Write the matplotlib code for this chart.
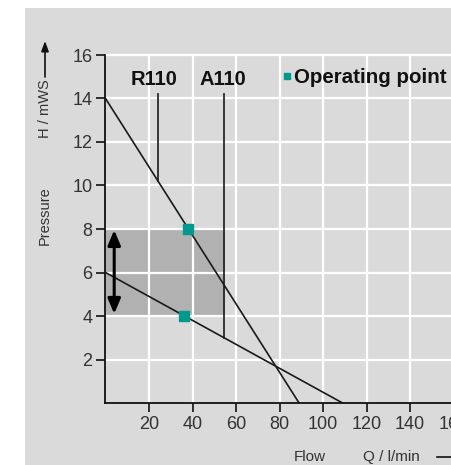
import numpy as np
import matplotlib.pyplot as plt
from matplotlib.patches import Rectangle

plt.rcParams['font.family'] = ['Liberation Sans', 'DejaVu Sans']

# pump curves (flow l/min, head mWS)
flow_r110 = [0, 89]
head_r110 = [14, 0]
flow_a110 = [0, 109]
head_a110 = [6, 0]

# operating points
op_flow = [38, 36]
op_head = [8, 4]

# shaded working range
range_flow = [0, 55]
range_head = [4, 8]

# label leader lines: x, top, bottom
lead_x = [24, 54.5]
lead_top = [14.2, 14.2]
lead_bot = [10.2, 3.0]
lead_names = ['R110', 'A110']

xticks = [20, 40, 60, 80, 100, 120, 140, 160]
yticks = [2, 4, 6, 8, 10, 12, 14, 16]

W, H = 452, 465
BG = '#dadada'
TEAL = '#009a8c'
TXT = '#333333'


def px(x, y):
    return x / W, 1 - y / H


fig = plt.figure(figsize=(W / 100, H / 100), dpi=100, facecolor='white')
fig.patches.append(Rectangle(px(25, H), 1, 1 - 8 / H, transform=fig.transFigure,
                             facecolor=BG, edgecolor='none', zorder=-10))

l, b = px(105.5, 403)
r, t = px(453.5, 55)
ax = fig.add_axes([l, b, r - l, t - b])
ax.set_facecolor(BG)
ax.set_xlim(0, 160)
ax.set_ylim(0, 16)
ax.set_axisbelow(True)

ax.grid(True, color='white', lw=1.6)
for gl in ax.get_ygridlines():
    gl.set_clip_on(False)

for s in ['top', 'right']:
    ax.spines[s].set_visible(False)
for s in ['left', 'bottom']:
    ax.spines[s].set_linewidth(1.3)
    ax.spines[s].set_color('#111111')

ax.set_xticks(xticks)
ax.set_yticks(yticks)
ax.tick_params(length=6.5, width=1.2, color='#111111', labelsize=13,
               labelcolor=TXT, pad=3)

# shaded range
ax.fill_between(range_flow, range_head[0], range_head[1], color='#b1b1b1',
                zorder=0.3, lw=0)

# curves
ax.plot(flow_r110, head_r110, color='#1a1a1a', lw=1.2, zorder=2)
ax.plot(flow_a110, head_a110, color='#1a1a1a', lw=1.2, zorder=2)

for x, t0, b0 in zip(lead_x, lead_top, lead_bot):
    ax.plot([x, x], [b0, t0], color='#1a1a1a', lw=1.2, zorder=2)

ax.plot(op_flow, op_head, ls='none', marker='s', ms=6.5, color=TEAL, zorder=3)

ax.annotate('', xy=(4, 4.1), xytext=(4, 7.95),
            arrowprops=dict(arrowstyle='<|-|>,head_length=0.9,head_width=0.38',
                            color='black', lw=2.2, shrinkA=0, shrinkB=0),
            zorder=4)

# labels
ax.text(22.3, 14.87, lead_names[0], ha='center', va='center', fontsize=14.5,
        fontweight='bold', color='#111111')
ax.text(53.8, 14.87, lead_names[1], ha='center', va='center', fontsize=14.5,
        fontweight='bold', color='#111111')
ax.plot([83.6], [15.03], marker='s', ms=5, color=TEAL, clip_on=False)
ax.text(86.6, 14.95, 'Operating point', ha='left', va='center', fontsize=14.8,
        fontweight='bold', color='#111111')

# axis titles
fig.text(*px(45, 138), 'H / mWS', rotation=90, ha='center', va='bottom',
         fontsize=10.5, color=TXT)
fig.text(*px(45, 216), 'Pressure', rotation=90, ha='center', va='center',
         fontsize=10.5, color=TXT)
ax.annotate('', xy=px(45, 41), xytext=px(45, 77), xycoords='figure fraction',
            textcoords='figure fraction',
            arrowprops=dict(arrowstyle='-|>,head_length=0.6,head_width=0.22',
                            color='#111111', lw=1.2, shrinkA=0, shrinkB=0))

fig.text(*px(310, 457), 'Flow', ha='center', va='center', fontsize=11, color=TXT)
fig.text(*px(363, 457), 'Q / l/min', ha='left', va='center', fontsize=11, color=TXT)
fig.add_artist(plt.Line2D([437 / W, 1], [1 - 457 / H] * 2, transform=fig.transFigure,
                          color='#111111', lw=1.2))

fig.savefig('out.png', dpi=100, facecolor='white')
